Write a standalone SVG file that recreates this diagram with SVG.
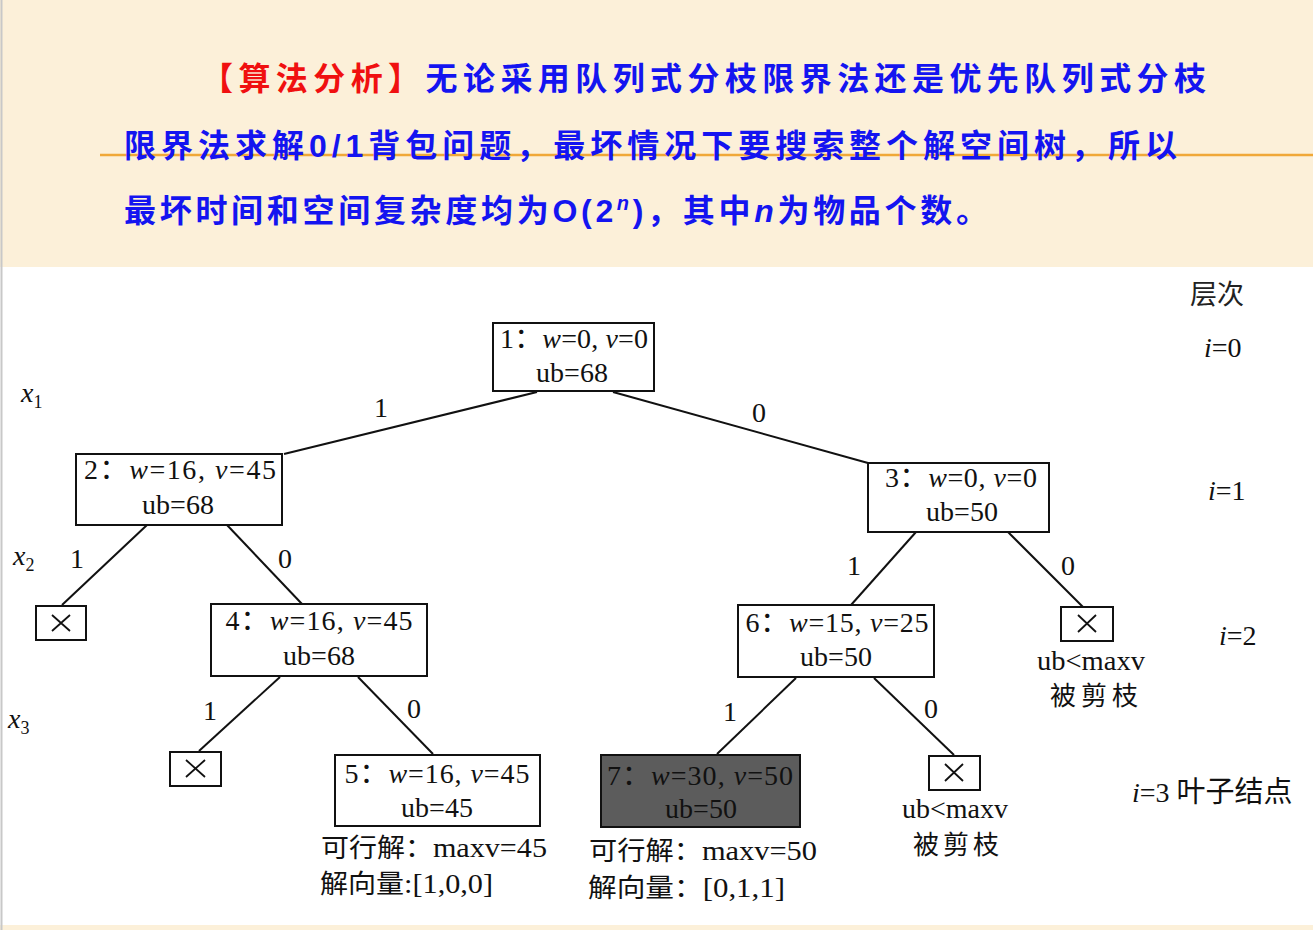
<svg xmlns="http://www.w3.org/2000/svg" width="1313" height="930" viewBox="0 0 1313 930">
<defs>
<style>
.hd{font-family:"Noto Sans CJK SC","Liberation Sans",sans-serif;font-weight:bold;font-size:32px;fill:#1414f0}
.red{fill:#f01010}
.lat{font-family:"Liberation Sans","Noto Sans CJK SC",sans-serif;font-weight:bold}
.nd{fill:#fff;stroke:#111;stroke-width:2}
.nd7{fill:#5c5c5c;stroke:#111;stroke-width:2}
.t{font-family:"Liberation Serif","Noto Sans CJK SC",serif;font-size:28px;fill:#111}
.it{font-style:italic}
.cn{font-family:"Liberation Serif","Noto Sans CJK SC",serif;font-size:28px;fill:#111}
.cjk{font-family:"Noto Sans CJK SC",sans-serif}
.edge{stroke:#111;stroke-width:2;fill:none}
.xm{stroke:#111;stroke-width:1.8}
</style>
</defs>
<rect x="0" y="0" width="1313" height="930" fill="#fff"/>
<rect x="0" y="0" width="1313" height="267" fill="#fcf0d9"/>
<rect x="0" y="925" width="1313" height="5" fill="#fcf0d9"/>
<line x1="1.5" y1="0" x2="1.5" y2="930" stroke="#c8c8c8" stroke-width="2"/>
<line x1="100" y1="155" x2="1313" y2="155" stroke="#f0a838" stroke-width="2.5"/>

<g id="heading">
<text class="hd" x="201" y="90" textLength="1005" lengthAdjust="spacing"><tspan class="red">【算法分析】</tspan>无论采用队列式分枝限界法还是优先队列式分枝</text>
<text class="hd" x="124" y="157" textLength="1053" lengthAdjust="spacing">限界法求解<tspan class="lat">0/1</tspan>背包问题，最坏情况下要搜索整个解空间树，所以</text>
<text class="hd" x="124" y="222" textLength="864" lengthAdjust="spacing">最坏时间和空间复杂度均为<tspan class="lat">O(2</tspan><tspan class="lat" font-style="italic" font-size="20" dy="-12">n</tspan><tspan class="lat" dy="12">)</tspan>，其中<tspan class="lat" font-style="italic">n</tspan>为物品个数。</text>
</g>

<g id="connectors">
<line class="edge" x1="537" y1="392" x2="284" y2="454"/>
<line class="edge" x1="613" y1="392" x2="868" y2="463"/>
<line class="edge" x1="147" y1="525" x2="62" y2="605"/>
<line class="edge" x1="227" y1="525" x2="302" y2="604"/>
<line class="edge" x1="916" y1="532" x2="851" y2="605"/>
<line class="edge" x1="1008" y1="532" x2="1083" y2="607"/>
<line class="edge" x1="280" y1="677" x2="199" y2="751"/>
<line class="edge" x1="358" y1="677" x2="433" y2="754"/>
<line class="edge" x1="796" y1="678" x2="717" y2="754"/>
<line class="edge" x1="874" y1="678" x2="954" y2="755"/>
</g>

<g id="edge-labels" class="t">
<text x="374" y="417">1</text>
<text x="752" y="422">0</text>
<text x="70" y="568">1</text>
<text x="278" y="568">0</text>
<text x="847" y="575">1</text>
<text x="1061" y="575">0</text>
<text x="203" y="720">1</text>
<text x="407" y="718">0</text>
<text x="723" y="721">1</text>
<text x="924" y="718">0</text>
</g>

<g id="level-vars" class="t">
<text x="21" y="402" class="it">x<tspan font-size="18" font-style="normal" dy="6">1</tspan></text>
<text x="13" y="565" class="it">x<tspan font-size="18" font-style="normal" dy="6">2</tspan></text>
<text x="8" y="728" class="it">x<tspan font-size="18" font-style="normal" dy="6">3</tspan></text>
</g>

<g id="levels">
<text class="cjk" x="1190" y="304" font-size="27" fill="#222">层次</text>
<text class="t" x="1204" y="357" font-size="26"><tspan class="it">i</tspan>=0</text>
<text class="t" x="1208" y="500" font-size="26"><tspan class="it">i</tspan>=1</text>
<text class="t" x="1219" y="645" font-size="26"><tspan class="it">i</tspan>=2</text>
<text class="t" x="1132" y="802" font-size="27"><tspan class="it">i</tspan>=3 <tspan class="cjk" font-size="29">叶子结点</tspan></text>
</g>

<g id="node1">
<rect class="nd" x="493" y="323" width="161" height="68"/>
<text class="t" x="574" y="348" text-anchor="middle" textLength="148" lengthAdjust="spacing">1：<tspan class="it">w</tspan>=0, <tspan class="it">v</tspan>=0</text>
<text class="t" x="572" y="382" text-anchor="middle">ub=68</text>
</g>
<g id="node2">
<rect class="nd" x="76" y="454" width="206" height="71"/>
<text class="t" x="180" y="479" text-anchor="middle" textLength="192" lengthAdjust="spacing">2：<tspan class="it">w</tspan>=16, <tspan class="it">v</tspan>=45</text>
<text class="t" x="178" y="514" text-anchor="middle">ub=68</text>
</g>
<g id="node3">
<rect class="nd" x="868" y="463" width="181" height="69"/>
<text class="t" x="961" y="487" text-anchor="middle" textLength="152" lengthAdjust="spacing">3：<tspan class="it">w</tspan>=0, <tspan class="it">v</tspan>=0</text>
<text class="t" x="962" y="521" text-anchor="middle">ub=50</text>
</g>
<g id="node4">
<rect class="nd" x="211" y="604" width="216" height="72"/>
<text class="t" x="319" y="630" text-anchor="middle" textLength="187" lengthAdjust="spacing">4：<tspan class="it">w</tspan>=16, <tspan class="it">v</tspan>=45</text>
<text class="t" x="319" y="665" text-anchor="middle">ub=68</text>
</g>
<g id="node6">
<rect class="nd" x="738" y="605" width="196" height="72"/>
<text class="t" x="837" y="632" text-anchor="middle" textLength="183" lengthAdjust="spacing">6：<tspan class="it">w</tspan>=15, <tspan class="it">v</tspan>=25</text>
<text class="t" x="836" y="666" text-anchor="middle">ub=50</text>
</g>
<g id="node5">
<rect class="nd" x="335" y="755" width="205" height="71"/>
<text class="t" x="437" y="783" text-anchor="middle" textLength="185" lengthAdjust="spacing">5：<tspan class="it">w</tspan>=16, <tspan class="it">v</tspan>=45</text>
<text class="t" x="437" y="817" text-anchor="middle">ub=45</text>
</g>
<g id="node7">
<rect class="nd7" x="601" y="755" width="199" height="72"/>
<text class="t" x="700" y="785" text-anchor="middle" textLength="186" lengthAdjust="spacing">7：<tspan class="it">w</tspan>=30, <tspan class="it">v</tspan>=50</text>
<text class="t" x="701" y="818" text-anchor="middle">ub=50</text>
</g>

<g id="cut1">
<rect class="nd" x="36" y="606" width="50" height="34"/>
<path class="xm" d="M52 615 L70 631 M70 615 L52 631"/>
</g>
<g id="cut2">
<rect class="nd" x="170" y="752" width="51" height="34"/>
<path class="xm" d="M186 760 L205 777 M205 760 L186 777"/>
</g>
<g id="cut3">
<rect class="nd" x="1061" y="607" width="52" height="34"/>
<path class="xm" d="M1078 615 L1096 632 M1096 615 L1078 632"/>
</g>
<g id="cut4">
<rect class="nd" x="929" y="756" width="51" height="34"/>
<path class="xm" d="M945 764 L963 781 M963 764 L945 781"/>
</g>

<g id="notes" class="cn">
<text x="1037" y="670" font-size="27" textLength="108" lengthAdjust="spacingAndGlyphs">ub&lt;maxv</text>
<text x="1050" y="705" class="cjk" font-size="26" textLength="88" lengthAdjust="spacing">被剪枝</text>
<text x="902" y="818" font-size="27" textLength="106" lengthAdjust="spacingAndGlyphs">ub&lt;maxv</text>
<text x="913" y="854" class="cjk" font-size="26" textLength="86" lengthAdjust="spacing">被剪枝</text>
<text x="321" y="857" textLength="226" lengthAdjust="spacingAndGlyphs"><tspan class="cjk" font-size="26">可行解：</tspan>maxv=45</text>
<text x="320" y="893" textLength="173" lengthAdjust="spacingAndGlyphs"><tspan class="cjk" font-size="26">解向量</tspan>:[1,0,0]</text>
<text x="589" y="860" textLength="228" lengthAdjust="spacingAndGlyphs"><tspan class="cjk" font-size="26">可行解：</tspan>maxv=50</text>
<text x="588" y="897" textLength="197" lengthAdjust="spacingAndGlyphs"><tspan class="cjk" font-size="26">解向量：</tspan>[0,1,1]</text>
</g>
</svg>
